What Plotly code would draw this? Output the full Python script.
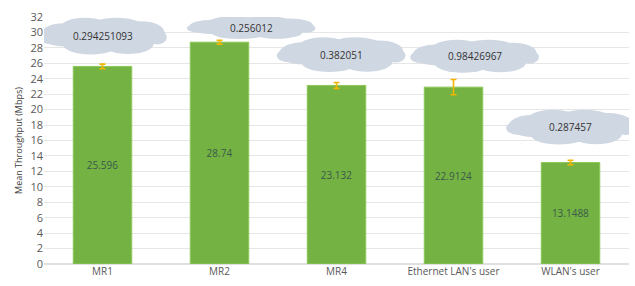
import plotly.graph_objects as go

categories = ["MR1", "MR2", "MR4", "Ethernet LAN's user", "WLAN's user"]
means = [25.596, 28.74, 23.132, 22.9124, 13.1488]
mean_labels = ["25.596", "28.74", "23.132", "22.9124", "13.1488"]
errors = [0.294251093, 0.256012, 0.382051, 0.98426967, 0.287457]
error_labels = ["0.294251093", "0.256012", "0.382051", "0.98426967", "0.287457"]
# cloud centre positions (category offset, y value)
cloud_dx = [0.0, 0.27, 0.04, 0.18, 0.0]
cloud_y = [29.5, 30.6, 27.1, 26.9, 17.7]
cloud_scale = [1.0, 0.62, 0.95, 0.9, 0.95]
y_ticks = list(range(0, 33, 2))

fig = go.Figure()
fig.add_trace(go.Bar(
    x=list(range(len(categories))), y=means,
    marker=dict(color="#74b243", line=dict(color="#8cc85a", width=1)),
    text=mean_labels, textposition="inside", insidetextanchor="middle",
    textfont=dict(color="#3b5a4a", size=10, family="Open Sans"),
    error_y=dict(type="data", array=errors, visible=True, color="#f2b600",
                 thickness=1.6, width=3),
    showlegend=False,
))

# cloud puffs relative to centre: (dx, dy, rx, ry) in category / y units
puffs = [
    (0.0, 0.0, 0.40, 1.8),
    (-0.33, 0.2, 0.2, 1.5),
    (-0.15, 1.0, 0.22, 1.4),
    (0.12, 1.05, 0.24, 1.35),
    (0.33, 0.5, 0.2, 1.45),
    (0.22, -0.9, 0.22, 1.4),
    (-0.1, -1.0, 0.24, 1.35),
    (-0.45, -0.1, 0.1, 0.9),
    (0.47, -0.1, 0.08, 0.95),
]
for i in range(len(categories)):
    cx = i + cloud_dx[i]
    cy = cloud_y[i]
    s = cloud_scale[i]
    for dx, dy, rx, ry in puffs:
        fig.add_shape(type="circle", xref="x", yref="y",
                      x0=cx + dx - rx, x1=cx + dx + rx,
                      y0=cy + (dy - ry) * s, y1=cy + (dy + ry) * s,
                      fillcolor="#cfd7e2", line=dict(width=0), layer="above")
    fig.add_annotation(x=cx, y=cy, xref="x", yref="y", text=error_labels[i],
                       showarrow=False,
                       font=dict(size=10, color="#333333", family="Open Sans"))

fig.add_annotation(x=0.5, y=1.0, xref="paper", yref="paper", yshift=14,
                   text="<b>Mean Network Throughput</b>", showarrow=False,
                   yanchor="bottom", font=dict(size=18, color="#404040", family="Open Sans"))

fig.update_layout(
    width=635, height=286,
    margin=dict(l=44, r=6, t=17, b=22),
    paper_bgcolor="white", plot_bgcolor="white",
    bargap=0.5,
    xaxis=dict(tickmode="array", tickvals=list(range(len(categories))),
               ticktext=categories, range=[-0.5, 4.5], showgrid=False,
               tickfont=dict(size=10, color="#595959", family="Open Sans"),
               showline=False, ticks=""),
    yaxis=dict(range=[0, 32], tickvals=y_ticks, showgrid=True, gridcolor="#e6e6e6",
               zeroline=True, zerolinecolor="#e0e0e0",
               tickfont=dict(size=11, color="#595959", family="Open Sans"),
               title=dict(text="Mean Throughput (Mbps)", standoff=6,
                          font=dict(size=9, color="#404040", family="Open Sans"))),
)

fig.write_html("out.html")
